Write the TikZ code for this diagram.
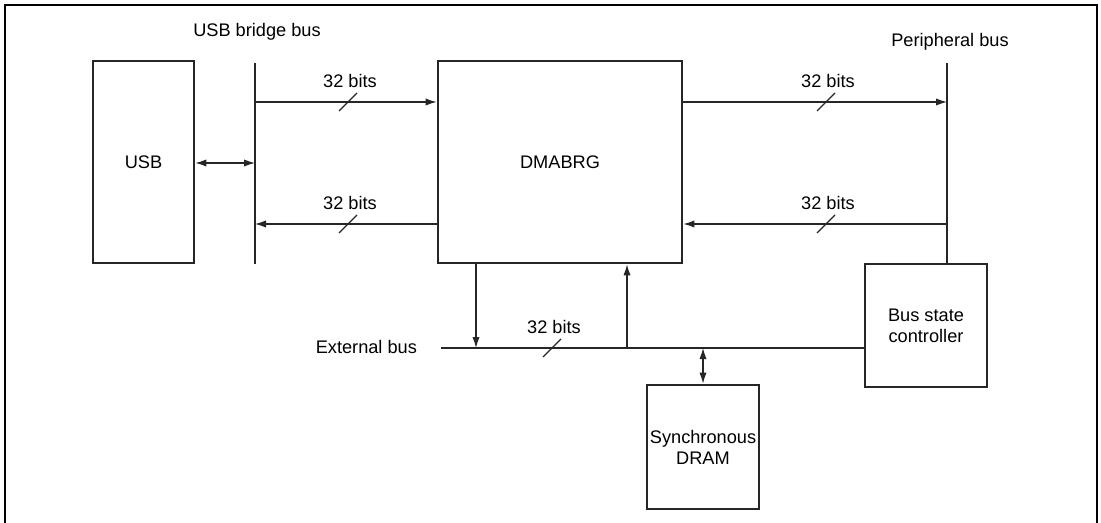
\documentclass[tikz,border=0pt]{standalone}
\usepackage{fontspec}
\setmainfont{Liberation Sans}
\usetikzlibrary{arrows.meta}
\tikzset{block/.style={draw=black!85,line width=1.4pt,inner sep=0pt,align=center},
 bus/.style={line width=0.55pt,draw=black!85},
 arrow/.style={bus,-{Latex[length=5.5pt,width=3.6pt]}},
 twoway/.style={bus,{Latex[length=5.5pt,width=3.6pt]}-{Latex[length=5.5pt,width=3.6pt]}}}

\begin{document}
\begin{tikzpicture}[x=0.5pt,y=-0.5pt,font=\fontsize{9.1}{10.5}\selectfont]
 \useasboundingbox (0,0) rectangle (1101,523);
 \draw[line width=1.2pt] (5,523) -- (5,5) -- (1097,5) -- (1097,523);
 % blocks
 \node[block,minimum width=50.5pt,minimum height=101pt] (usb) at (143.5,162) {USB};
 \node[block,minimum width=122pt,minimum height=101pt] (dmabrg) at (560,162) {DMABRG};
 \node[block,minimum width=61pt,minimum height=61.5pt] (bsc) at (926,325.5) {Bus state\\controller};
 \node[block,minimum width=56pt,minimum height=62pt] (sdram) at (703,447) {Synchronous\\DRAM};
 % buses
 \coordinate (ubtop) at (255,63);
 \coordinate (ubbot) at (255,264);
 \coordinate (pbtop) at (947,63);
 \coordinate (ext) at (441,348);
 \draw[bus] (ubtop) -- (ubbot);
 \draw[bus] (pbtop) -- (bsc.north -| pbtop);
 \draw[bus] (ext) -- (bsc.west |- ext);
 \node (ubname) at (257,32) {USB bridge bus};
 \node (pbname) at (950,42) {Peripheral bus};
 \node[anchor=east] (extname) at (424,347) {External bus};
 % transfers
 \draw[twoway] (usb.east |- 0,163) -- (255,163);
 \draw[arrow] (255,102) -- (dmabrg.west |- 0,102);
 \draw[arrow] (dmabrg.west |- 0,224) -- (255,224);
 \draw[arrow] (dmabrg.east |- 0,102) -- (947,102);
 \draw[arrow] (947,224) -- (dmabrg.east |- 0,224);
 \draw[arrow] (dmabrg.south -| 476,0) -- (476,348);
 \draw[arrow] (627,348) -- (dmabrg.south -| 627,0);
 \draw[twoway] (703,348) -- (sdram.north);
 % bus widths
 \foreach \x/\y/\n in {348/102/a,348/224/b,826/102/c,826/224/d,552/348/e}{
  \draw[bus] (\x-9,\y+9) -- (\x+9,\y-9);
  \node (bits\n) at (\x+2,\y-21) {32 bits};
 }
\end{tikzpicture}
\end{document}
